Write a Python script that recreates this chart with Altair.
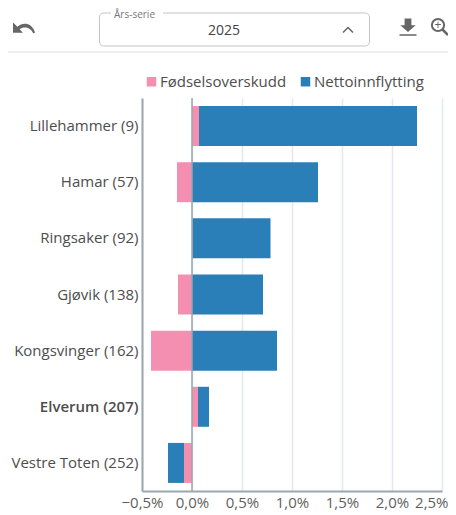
import altair as alt
import pandas as pd

places = ["Lillehammer (9)", "Hamar (57)", "Ringsaker (92)", "Gjøvik (138)", "Kongsvinger (162)", "Elverum (207)", "Vestre Toten (252)"]
births = [0.07, -0.15, 0.005, -0.14, -0.41, 0.06, -0.08]
moves = [2.18, 1.26, 0.78, 0.71, 0.85, 0.11, -0.16]
series = ["Fødselsoverskudd", "Nettoinnflytting"]
colors = ["#F48FB1", "#2A7FB8"]
x_ticks = [-0.5, 0, 0.5, 1, 1.5, 2, 2.5]

FONT = "Open Sans"
PAD_L, PAD_T = 134, 90
W, H = 300, 393

rows = []
for p, b, m in zip(places, births, moves):
    rows.append({"place": p, "series": series[0], "value": b, "o": 0})
    rows.append({"place": p, "series": series[1], "value": m, "o": 1})
df = pd.DataFrame(rows)

def X(px):
    return px - 8 - PAD_L
def Y(px):
    return px - 8 - PAD_T

one = alt.Data(values=[{"a": 1}])

bars = alt.Chart(df).mark_bar(size=40).encode(
    y=alt.Y("place:N", sort=places, title=None, scale=alt.Scale(paddingInner=0.29, paddingOuter=0.145),
            axis=alt.Axis(domainColor="#9aa7ad", domainWidth=2, ticks=False, grid=False, labelFont=FONT,
                          labelFontSize=15, labelColor="#4d4d4d", labelPadding=4, labelLimit=140,
                          labelFontWeight={"condition": {"test": "datum.value == 'Elverum (207)'", "value": 600}, "value": 400})),
    x=alt.X("value:Q", stack="zero", title=None,
            scale=alt.Scale(domain=[-0.5, 2.5], nice=False),
            axis=alt.Axis(values=x_ticks, labelExpr="replace(replace(format(datum.value,'.1f'),'.',','),'-','−')+'%'",
                          domainColor="#9aa7ad", domainWidth=2, ticks=False, grid=True, gridColor="#e3e8ec", gridWidth=1.5,
                          labelFont=FONT, labelFontSize=15, labelColor="#5f5f5f", labelPadding=4, labelFlush=False, labelOverlap=False,
                          labelBound=False,
                          labelAlign={"condition": {"test": "datum.value == 2.5", "value": "right"}, "value": "center"},
                          labelOffset={"condition": {"test": "datum.value == 2.5", "value": 6}, "value": 0})),
    color=alt.Color("series:N", scale=alt.Scale(domain=series, range=colors), title=None,
                    legend=alt.Legend(orient="none", legendX=X(144), legendY=Y(74), direction="horizontal",
                                      symbolType="square", symbolSize=90, symbolStrokeWidth=0, labelFont=FONT, labelFontSize=15,
                                      labelColor="#4d4d4d", columnPadding=11, labelOffset=1, padding=0)),
    order=alt.Order("o:Q"),
)

zero = alt.Chart(alt.Data(values=[{"x": 0}])).mark_rule(color="#9aa7ad", strokeWidth=1.5).encode(x="x:Q")

def box(x1, x2, y1, y2, **kw):
    return alt.Chart(one).mark_rect(**kw).encode(x=alt.value(X(x1)), x2=alt.value(X(x2)), y=alt.value(Y(y1)), y2=alt.value(Y(y2)))

def label(txt, x, y, size, color, align="center"):
    return alt.Chart(alt.Data(values=[{"t": txt}])).mark_text(font=FONT, fontSize=size, color=color, align=align, baseline="middle").encode(
        text="t:N", x=alt.value(X(x)), y=alt.value(Y(y)))

def icon(path, x, y, size, color="#666666", filled=True, sw=0):
    return alt.Chart(one).mark_point(shape=path, filled=filled, size=size, color=color, strokeWidth=sw, opacity=1).encode(
        x=alt.value(X(x)), y=alt.value(Y(y)))

sep = alt.Chart(one).mark_rule(color="#d9d9d9", strokeWidth=1).encode(x=alt.value(X(6)), x2=alt.value(X(448)), y=alt.value(Y(52)))
select = box(99.5, 369.5, 13, 46, fill="white", stroke="#c4c4c4", strokeWidth=1, cornerRadius=4)
notch = box(111, 163, 10, 20, fill="white")
cap = label("Års-serie", 114, 15, 10, "#777777", "left")
year = label("2025", 224, 31, 14, "#444444")
chev = icon("M -0.5 0.25 L 0 -0.25 L 0.5 0.25", 348, 30, 400, "#666666", False, 1.5)
back = icon("M -0.5 -0.25 L -0.5 0.22 L -0.05 0.22 L -0.2 0.06 C -0.03 -0.08 0.3 -0.06 0.42 0.25 L 0.5 0.2 C 0.35 -0.25 -0.05 -0.27 -0.3 -0.06 Z", 24, 28, 1936)
dl = icon("M -0.2 -0.5 L 0.2 -0.5 L 0.2 -0.1 L 0.45 -0.1 L 0 0.3 L -0.45 -0.1 L -0.2 -0.1 Z M -0.5 0.42 L 0.5 0.42 L 0.5 0.52 L -0.5 0.52 Z", 408, 27, 1156)
lens = alt.Chart(one).mark_point(shape="circle", filled=False, size=150, color="#666666", strokeWidth=2, opacity=1).encode(x=alt.value(X(438)), y=alt.value(Y(25)))
handle = icon("M -0.5 -0.5 L 0.5 0.5", 445, 32, 144, "#666666", False, 2.5)
plus = label("+", 438, 25, 12, "#666666")

chart = alt.layer(bars, zero, sep, select, notch, cap, year, chev, back, dl, lens, handle, plus).properties(
    width=W, height=H,
    autosize=alt.AutoSizeParams(type="none"),
    padding={"left": PAD_L, "top": PAD_T, "right": 6, "bottom": 22},
).configure_view(stroke=None)

chart.save("out.html", embed_options={"renderer": "svg", "actions": False})
